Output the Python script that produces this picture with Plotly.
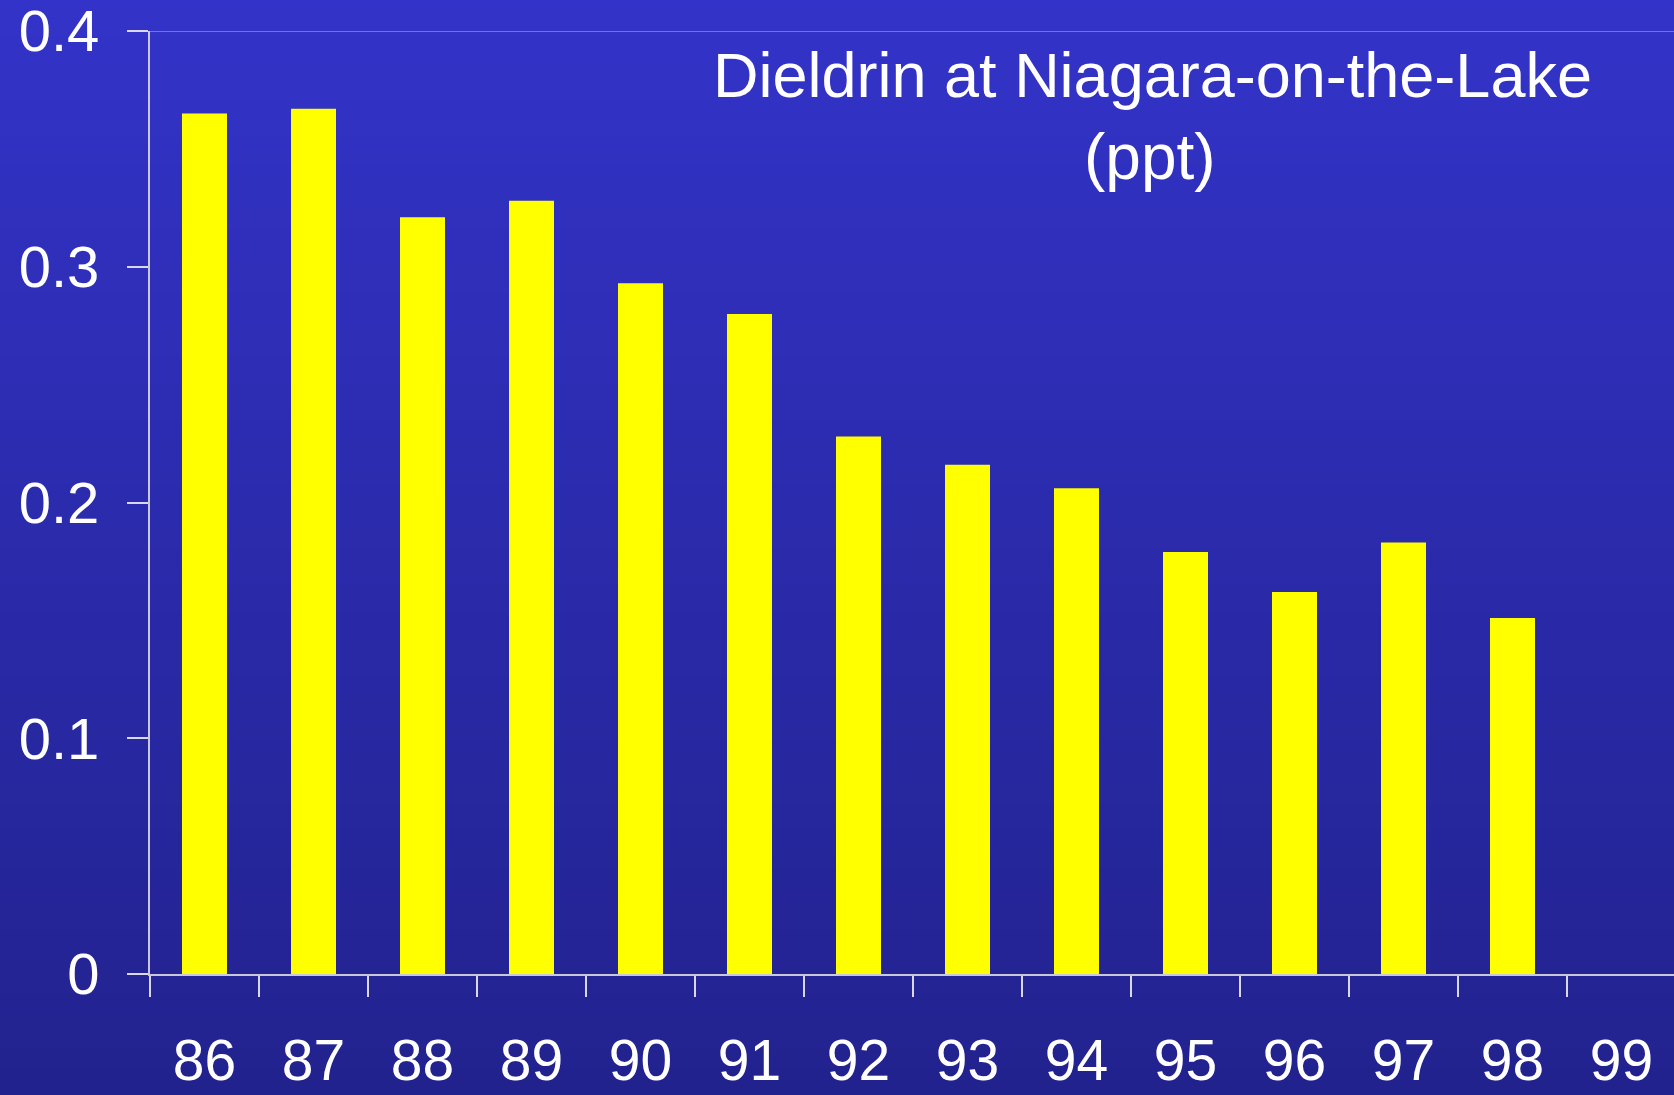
import plotly.graph_objects as go

years = ["86", "87", "88", "89", "90", "91", "92", "93", "94", "95", "96", "97", "98", "99"]
dieldrin_ppt = [0.365, 0.367, 0.321, 0.328, 0.293, 0.280, 0.228, 0.216, 0.206, 0.179, 0.162, 0.183, 0.151, None]
y_ticks = [0, 0.1, 0.2, 0.3, 0.4]
y_tick_labels = ["0", "0.1", "0.2", "0.3", "0.4"]
title_line1 = "Dieldrin at Niagara-on-the-Lake"
title_line2 = "(ppt)"

W, H = 1674, 1095
FONT = "Liberation Sans, Arial, sans-serif"

fig = go.Figure()
fig.add_trace(go.Bar(x=years, y=dieldrin_ppt, marker=dict(color="#FFFF00", line=dict(width=0)),
                     showlegend=False))

# vertical gradient background built from thin bands
top = (51, 51, 201)
bot = (34, 34, 142)
N = 120
shapes = []
for i in range(N):
    t = (i + 0.5) / N
    c = tuple(round(top[k] + (bot[k] - top[k]) * t) for k in range(3))
    shapes.append(dict(type="rect", xref="paper", yref="paper", x0=0, x1=1,
                       y0=1 - (i + 1) / N - 0.001, y1=1 - i / N,
                       fillcolor="rgb(%d,%d,%d)" % c, line=dict(width=0), layer="below"))
# top border line of plot area
shapes.append(dict(type="line", xref="paper", yref="y", x0=150 / W, x1=1, y0=0.4, y1=0.4,
                   line=dict(color="#808080", width=2), layer="above"))

x_dom0 = 150 / W
cat_w = 109.0
x_max = -0.5 + (W - 150) / cat_w

fig.update_layout(
    width=W, height=H,
    margin=dict(l=0, r=0, t=0, b=0),
    paper_bgcolor="rgb(34,34,142)",
    plot_bgcolor="rgba(0,0,0,0)",
    bargap=1 - 45 / cat_w,
    shapes=shapes,
    font=dict(family=FONT, color="white"),
    xaxis=dict(
        domain=[x_dom0, 1], range=[-0.5, x_max], type="category",
        tickson="boundaries", ticks="outside", ticklen=21, tickwidth=2, tickcolor="#d8d8e8",
        showline=True, linecolor="#c8c8d8", linewidth=2,
        showgrid=False, zeroline=False,
        tickfont=dict(size=57, color="white", family=FONT),
        ticklabelstandoff=36, automargin=False, ticklabeloverflow="allow",
    ),
    yaxis=dict(
        domain=[(H - 974) / H, (H - 31) / H], range=[0, 0.4],
        tickvals=y_ticks, ticktext=y_tick_labels,
        ticks="outside", ticklen=21, tickwidth=2, tickcolor="#d8d8e8",
        showline=True, linecolor="#c8c8d8", linewidth=2,
        showgrid=False, zeroline=False,
        tickfont=dict(size=58, color="white", family=FONT),
        ticklabelstandoff=16, automargin=False, ticklabeloverflow="allow",
    ),
    annotations=[
        dict(text=title_line1, xref="paper", yref="paper", x=1152 / W, y=1 - 75 / H,
             xanchor="center", yanchor="middle", showarrow=False,
             font=dict(size=63, color="white", family=FONT)),
        dict(text=title_line2, xref="paper", yref="paper", x=1150 / W, y=1 - 157 / H,
             xanchor="center", yanchor="middle", showarrow=False,
             font=dict(size=64, color="white", family=FONT)),
    ],
)

fig.write_html("out.html", config={"displayModeBar": False},
               post_script="document.body.style.margin='0px';document.body.style.overflow='hidden';")
